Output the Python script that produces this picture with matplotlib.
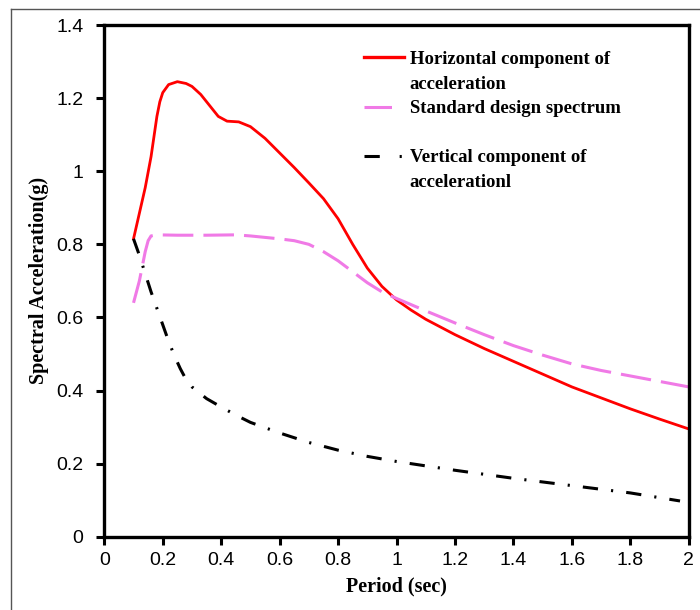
import matplotlib
matplotlib.use("Agg")
import matplotlib.pyplot as plt
from matplotlib.lines import Line2D

# Horizontal component of acceleration (red, solid)
period_h = [0.1, 0.12, 0.14, 0.16, 0.18, 0.19, 0.2, 0.22, 0.25, 0.28, 0.3, 0.33,
            0.36, 0.39, 0.42, 0.46, 0.5, 0.55, 0.6, 0.65, 0.7, 0.75, 0.8, 0.85,
            0.9, 0.95, 1.0, 1.05, 1.1, 1.2, 1.3, 1.4, 1.5, 1.6, 1.7, 1.8, 1.9, 2.0]
acc_h = [0.815, 0.885, 0.955, 1.04, 1.15, 1.19, 1.215, 1.237, 1.245, 1.24, 1.232, 1.21,
         1.18, 1.15, 1.137, 1.135, 1.122, 1.09, 1.05, 1.01, 0.968, 0.925, 0.87, 0.80,
         0.735, 0.685, 0.648, 0.62, 0.595, 0.553, 0.515, 0.48, 0.445, 0.41, 0.38, 0.35,
         0.322, 0.295]

# Standard design spectrum (pink, dashed)
period_s = [0.1, 0.12, 0.14, 0.15, 0.16, 0.18, 0.25, 0.35, 0.45, 0.5, 0.6, 0.65,
            0.7, 0.75, 0.8, 0.85, 0.9, 0.95, 1.0, 1.1, 1.2, 1.3, 1.4, 1.5, 1.6,
            1.7, 1.8, 1.9, 2.0]
acc_s = [0.64, 0.70, 0.78, 0.81, 0.823, 0.826, 0.825, 0.825, 0.826, 0.823, 0.815, 0.81,
         0.80, 0.78, 0.755, 0.725, 0.695, 0.67, 0.652, 0.618, 0.585, 0.553, 0.523, 0.497,
         0.473, 0.455, 0.44, 0.425, 0.41]

# Vertical component of acceleration (black, dash-dot)
period_v = [0.1, 0.12, 0.14, 0.16, 0.18, 0.2, 0.22, 0.24, 0.26, 0.28, 0.3, 0.35,
            0.4, 0.45, 0.5, 0.6, 0.7, 0.8, 0.9, 1.0, 1.2, 1.4, 1.6, 1.8, 1.97]
acc_v = [0.815, 0.77, 0.72, 0.67, 0.625, 0.58, 0.535, 0.495, 0.46, 0.43, 0.41, 0.378,
         0.355, 0.333, 0.313, 0.284, 0.258, 0.237, 0.22, 0.206, 0.182, 0.16, 0.14, 0.12,
         0.098]

x_ticks = [0, 0.2, 0.4, 0.6, 0.8, 1, 1.2, 1.4, 1.6, 1.8, 2]
x_tick_labels = ["0", "0.2", "0.4", "0.6", "0.8", "1", "1.2", "1.4", "1.6", "1.8", "2"]
y_ticks = [0, 0.2, 0.4, 0.6, 0.8, 1, 1.2, 1.4]
y_tick_labels = ["0", "0.2", "0.4", "0.6", "0.8", "1", "1.2", "1.4"]

red = "red"
pink = "#f07ae6"
pink_dash = (10, 3.3)
black_dash = (5, 4.3, 0.7, 4.3)

fig = plt.figure(figsize=(7, 6.1), dpi=100)
ax = fig.add_axes([0.149, 0.12, 0.835, 0.839])

ax.plot(period_h, acc_h, color=red, lw=2.0)
ax.plot(period_s, acc_s, color=pink, lw=2.2, dashes=pink_dash)
ax.plot(period_v, acc_v, color="black", lw=2.2, dashes=black_dash)

ax.set_xlim(0, 2)
ax.set_ylim(0, 1.4)
ax.set_xticks(x_ticks)
ax.set_xticklabels(x_tick_labels)
ax.set_yticks(y_ticks)
ax.set_yticklabels(y_tick_labels)
ax.tick_params(axis="both", direction="out", length=6, width=2.2, labelsize=14,
               color="black")
ax.tick_params(axis="x", pad=5)
ax.tick_params(axis="y", pad=9)
for lab in ax.get_xticklabels() + ax.get_yticklabels():
    lab.set_fontfamily("Liberation Sans")
for sp in ax.spines.values():
    sp.set_linewidth(2.4)

ax.set_xlabel("Period (sec)", fontfamily="Liberation Serif", fontweight="bold",
              fontsize=14.5, labelpad=5)
ax.set_ylabel("Spectral Acceleration(g)", fontfamily="Liberation Serif", fontweight="bold",
              fontsize=14.5, labelpad=5)

# legend: one entry per text line so handles sit next to the first line
blank = Line2D([], [], color="none")
handles = [Line2D([], [], color=red, lw=2.4), blank,
           Line2D([], [], color=pink, lw=2.2, dashes=(9, 6)), blank,
           Line2D([], [], color="black", lw=2.2, dashes=(5, 6.5, 0.7, 6.5)), blank]
labels = ["Horizontal component of", "acceleration", "Standard design spectrum", "",
          "Vertical component of", "accelerationl"]
ax.legend(handles, labels, loc="upper left", bbox_to_anchor=(0.428, 0.968), frameon=False,
          prop={"family": "Liberation Serif", "weight": "bold", "size": 13.5},
          handlelength=2.15, handletextpad=0.3, labelspacing=0.40, borderpad=0)

# thin grey frame of the original picture
fig.add_artist(Line2D([0.016, 0.016], [0, 0.986], color="#555555", lw=1,
                      transform=fig.transFigure))
fig.add_artist(Line2D([0.016, 1.0], [0.986, 0.986], color="#555555", lw=1,
                      transform=fig.transFigure))

fig.savefig("out.png", dpi=100)
